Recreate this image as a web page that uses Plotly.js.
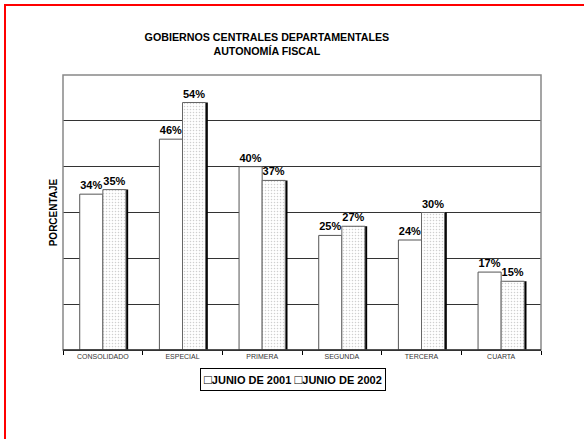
<!DOCTYPE html>
<html>
<head>
<meta charset="utf-8">
<script src="https://cdn.plot.ly/plotly-3.0.1.min.js"></script>
<style>
html,body{margin:0;padding:0;background:#fff;}
#wrap{position:relative;width:584px;height:439px;overflow:hidden;}
#chart{position:absolute;left:0;top:0;width:584px;height:439px;}
#frame{position:absolute;left:4px;top:4px;width:700px;height:600px;border-top:2px solid #ff0000;border-left:2px solid #ff0000;pointer-events:none;}
</style>
</head>
<body>
<div id="wrap"><div id="chart"></div><div id="frame"></div></div>
<script>
const categories = ['CONSOLIDADO','ESPECIAL','PRIMERA','SEGUNDA','TERCERA','CUARTA'];
const junio2001 = [34, 46, 40, 25, 24, 17];
const junio2002 = [35, 54, 37, 27, 30, 15];
const seriesNames = ['JUNIO DE 2001', 'JUNIO DE 2002'];
const yTitle = 'PORCENTAJE';
const chartTitle = 'GOBIERNOS CENTRALES DEPARTAMENTALES<br>AUTONOMÍA FISCAL';

const FONT = 'Arial, "Liberation Sans", sans-serif';
const W = 0.29, SH = 0.028;
const labelFont = {family: FONT, size: 11, color: '#000', weight: 'bold'};

const traces = [
  {type: 'bar', name: seriesNames[0], x: categories, y: junio2001, width: W, offset: -W,
   marker: {color: '#fff', line: {color: '#555', width: 1}},
   texttemplate: '%{y}%', textposition: 'outside', textfont: labelFont, cliponaxis: false,
   showlegend: false},
  {type: 'bar', x: categories, y: junio2002, width: W, offset: SH,
   marker: {color: '#000', line: {width: 0}}, showlegend: false, hoverinfo: 'skip'},
  {type: 'bar', name: seriesNames[1], x: categories, y: junio2002, width: W, offset: 0,
   marker: {color: '#fff', line: {color: '#666', width: 1},
            pattern: {shape: '.', fgcolor: '#cfcfcf', bgcolor: '#fff', size: 3, solidity: 0.2}},
   texttemplate: '%{y}%', textposition: 'outside', textfont: labelFont, cliponaxis: false,
   showlegend: false}
];

const sq = '<span style="font-size:13px;font-weight:normal">\u25A1</span>';
const legendText = sq + seriesNames[0] + ' ' + sq + seriesNames[1];

const layout = {
  width: 584, height: 439,
  margin: {l: 63, r: 43, t: 75, b: 89},
  paper_bgcolor: '#fff', plot_bgcolor: '#fff',
  barmode: 'overlay',
  showlegend: false,
  font: {family: FONT, color: '#000'},
  title: {text: chartTitle, font: {family: FONT, size: 10.7, weight: 'bold', color: '#000'},
          x: 0.457, xanchor: 'center', xref: 'container', y: 0.906, yanchor: 'top', yref: 'container'},
  xaxis: {type: 'category', showline: true, linecolor: '#000', linewidth: 1,
          ticks: 'outside', tickson: 'boundaries', ticklen: 4, tickcolor: '#000',
          tickfont: {family: FONT, size: 7, color: '#333'}, showgrid: false, fixedrange: true},
  yaxis: {range: [0, 60], dtick: 10, showticklabels: false, ticks: '',
          showgrid: true, gridcolor: '#333', gridwidth: 1, zeroline: false,
          showline: false, fixedrange: true,
          title: {text: yTitle, font: {family: FONT, size: 10, weight: 'bold', color: '#000'}, standoff: 2}},
  annotations: [{text: legendText, xref: 'paper', yref: 'paper',
                 x: (292.5 - 63) / 478, y: (350 - 379) / 275, xanchor: 'center', yanchor: 'middle',
                 showarrow: false, font: {family: FONT, size: 11, weight: 'bold', color: '#000'},
                 bordercolor: '#000', borderwidth: 1, borderpad: 3, bgcolor: '#fff'}],
  shapes: [{type: 'rect', xref: 'paper', yref: 'paper', x0: 0, x1: 1, y0: 0, y1: 1,
            line: {color: '#888', width: 1.5}, layer: 'above'},
           {type: 'line', xref: 'paper', yref: 'paper', x0: 0, x1: 1, y0: 0, y1: 0,
            line: {color: '#000', width: 1}, layer: 'above'}]
};

Plotly.newPlot('chart', traces, layout, {displayModeBar: false, staticPlot: true});
</script>
</body>
</html>
